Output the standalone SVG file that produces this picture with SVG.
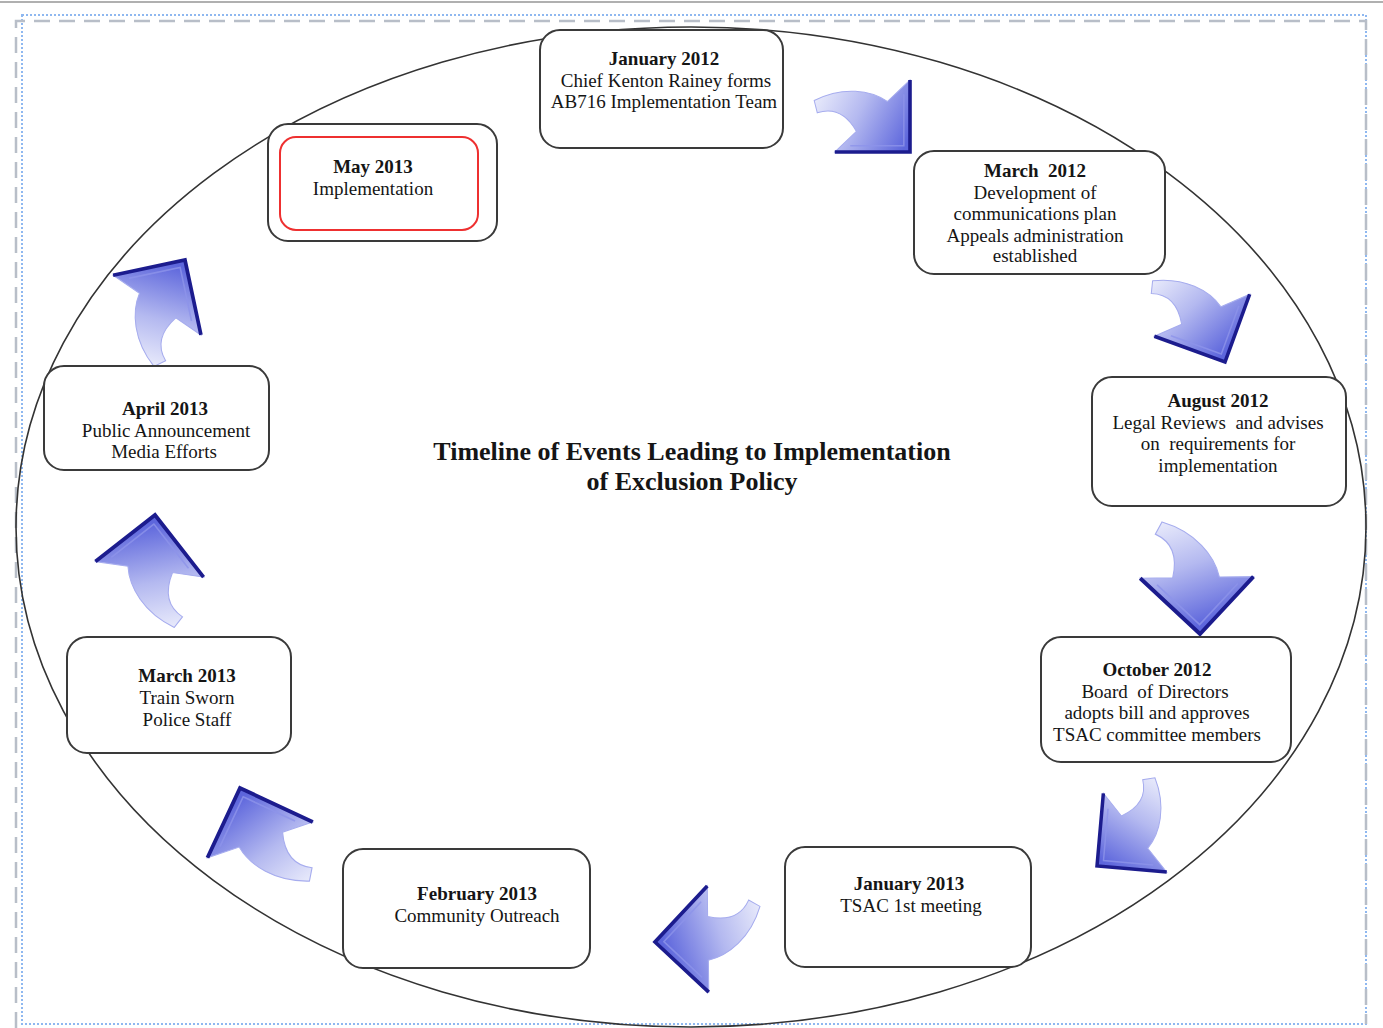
<svg xmlns="http://www.w3.org/2000/svg" xmlns:xlink="http://www.w3.org/1999/xlink" width="1383" height="1028" viewBox="0 0 1383 1028">
<style>
  .box { fill: #ffffff; stroke: #3a3a3a; stroke-width: 2; }
  .t { font-family: "Liberation Serif", "Times New Roman", serif; font-size: 19px; fill: #151515; text-anchor: middle; white-space: pre; }
  .b { font-weight: bold; }
  .title { font-family: "Liberation Serif", "Times New Roman", serif; font-size: 26px; font-weight: bold; fill: #151515; text-anchor: middle; }
</style>
<defs>
  <linearGradient id="ag" gradientUnits="userSpaceOnUse" x1="-93" y1="-50" x2="-5" y2="-5">
    <stop offset="0" stop-color="#e8eafb"/>
    <stop offset="0.45" stop-color="#b4b9f0"/>
    <stop offset="1" stop-color="#5d66dc"/>
  </linearGradient>
  <g id="arrow">
    <path d="M0,0 L0,-70 L-22,-49 C-38,-60 -65,-64 -93,-50 C-92,-46 -91,-42 -90,-38 C-72,-44 -60,-34 -52,-20 L-73,0 Z" fill="url(#ag)" stroke="#a6acee" stroke-width="1"/>
    <path d="M-6,-56 L-6,-6 L-58,-6" fill="none" stroke="#8d94ea" stroke-width="1.5" opacity="0.8"/>
    <path d="M0,-70 L0,0 L-73,0" fill="none" stroke="#1c1c8e" stroke-width="3.5" stroke-linejoin="miter"/>
  </g>
</defs>
<rect x="0" y="0" width="1383" height="1028" fill="#ffffff"/>
<line x1="0" y1="2" x2="1383" y2="2" stroke="#b0b0b0" stroke-width="2"/>
<rect x="22" y="15" width="1344" height="1009" fill="none" stroke="#8fb8f0" stroke-width="2" stroke-dasharray="2,2"/>
<path d="M16,1028 V21 H1366 V1024" fill="none" stroke="#b8bec8" stroke-width="2.5" stroke-dasharray="16,9"/>
<ellipse cx="691" cy="527" rx="675" ry="500" fill="none" stroke="#333333" stroke-width="1.6"/>

<g id="connectors">
  <use xlink:href="#arrow" href="#arrow" transform="translate(910,152) scale(1.03)"/>
  <use xlink:href="#arrow" href="#arrow" transform="translate(1225,362) rotate(20) scale(1.03)"/>
  <use xlink:href="#arrow" href="#arrow" transform="translate(1200,634) rotate(43) scale(1.12)"/>
  <use xlink:href="#arrow" href="#arrow" transform="translate(1097,866) rotate(95)"/>
  <use xlink:href="#arrow" href="#arrow" transform="translate(655,942) rotate(133) scale(1.05)"/>
  <use xlink:href="#arrow" href="#arrow" transform="translate(240,788) rotate(205) scale(1.1)"/>
  <use xlink:href="#arrow" href="#arrow" transform="translate(155,515) rotate(232) scale(1.08)"/>
  <use xlink:href="#arrow" href="#arrow" transform="translate(185,260) rotate(258) scale(1.05)"/>
</g>

<g id="title">
  <text class="title" x="692" y="460">Timeline of Events Leading to Implementation</text>
  <text class="title" x="692" y="490">of Exclusion Policy</text>
</g>

<g id="node-jan2012">
  <rect class="box" x="540" y="30" width="243" height="118" rx="20"/>
  <text class="t b" x="664" y="65">January 2012</text>
  <text class="t" x="666" y="87">Chief Kenton Rainey forms</text>
  <text class="t" x="664" y="108">AB716 Implementation Team</text>
</g>
<g id="node-mar2012">
  <rect class="box" x="914" y="151" width="251" height="123" rx="20"/>
  <text class="t b" x="1035" y="177">March  2012</text>
  <text class="t" x="1035" y="199">Development of</text>
  <text class="t" x="1035" y="220">communications plan</text>
  <text class="t" x="1035" y="242">Appeals administration</text>
  <text class="t" x="1035" y="262">established</text>
</g>
<g id="node-aug2012">
  <rect class="box" x="1092" y="377" width="254" height="129" rx="20"/>
  <text class="t b" x="1218" y="407">August 2012</text>
  <text class="t" x="1218" y="429">Legal Reviews  and advises</text>
  <text class="t" x="1218" y="450">on  requirements for</text>
  <text class="t" x="1218" y="472">implementation</text>
</g>
<g id="node-oct2012">
  <rect class="box" x="1041" y="637" width="250" height="125" rx="20"/>
  <text class="t b" x="1157" y="676">October 2012</text>
  <text class="t" x="1155" y="698">Board  of Directors</text>
  <text class="t" x="1157" y="719">adopts bill and approves</text>
  <text class="t" x="1157" y="741">TSAC committee members</text>
</g>
<g id="node-jan2013">
  <rect class="box" x="785" y="847" width="246" height="120" rx="20"/>
  <text class="t b" x="909" y="890">January 2013</text>
  <text class="t" x="911" y="912">TSAC 1st meeting</text>
</g>
<g id="node-feb2013">
  <rect class="box" x="343" y="849" width="247" height="119" rx="20"/>
  <text class="t b" x="477" y="900">February 2013</text>
  <text class="t" x="477" y="922">Community Outreach</text>
</g>
<g id="node-mar2013">
  <rect class="box" x="67" y="637" width="224" height="116" rx="20"/>
  <text class="t b" x="187" y="682">March 2013</text>
  <text class="t" x="187" y="704">Train Sworn</text>
  <text class="t" x="187" y="726">Police Staff</text>
</g>
<g id="node-apr2013">
  <rect class="box" x="44" y="366" width="225" height="104" rx="20"/>
  <text class="t b" x="165" y="415">April 2013</text>
  <text class="t" x="166" y="437">Public Announcement</text>
  <text class="t" x="164" y="458">Media Efforts</text>
</g>
<g id="node-may2013">
  <rect class="box" x="268" y="124" width="229" height="117" rx="20"/>
  <rect x="280" y="137" width="198" height="93" rx="16" fill="#ffffff" stroke="#ee3030" stroke-width="2"/>
  <text class="t b" x="373" y="173">May 2013</text>
  <text class="t" x="373" y="195">Implementation</text>
</g>
</svg>
